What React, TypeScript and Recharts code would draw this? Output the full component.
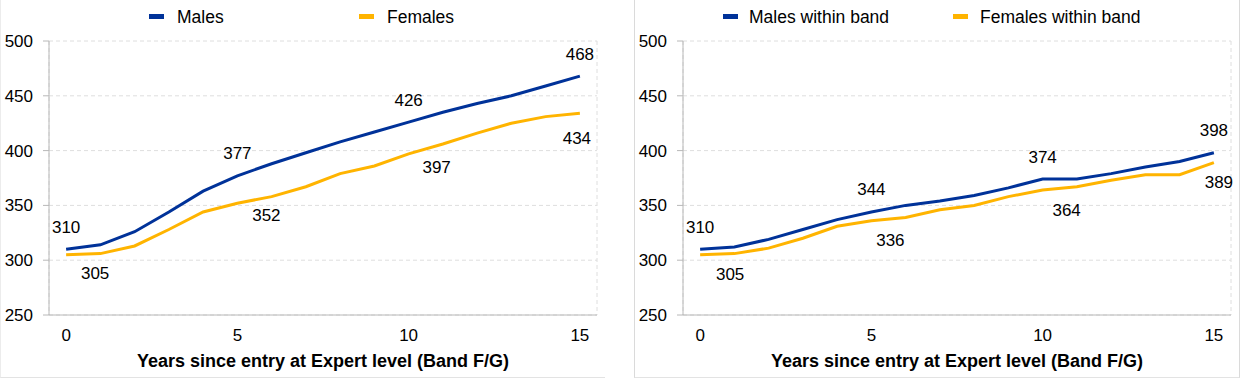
import { LineChart, Line, XAxis, YAxis, CartesianGrid, Legend } from "recharts";

// years since entry at Expert level (Band F/G)
const years = [0, 1, 2, 3, 4, 5, 6, 7, 8, 9, 10, 11, 12, 13, 14, 15];

const males = [310, 314, 326, 344, 363, 377, 388, 398, 408, 417, 426, 435, 443, 450, 459, 468];
const females = [305, 306, 313, 328, 344, 352, 358, 367, 379, 386, 397, 406, 416, 425, 431, 434];

const malesBand = [310, 312, 319, 328, 337, 344, 350, 354, 359, 366, 374, 374, 379, 385, 390, 398];
const femalesBand = [305, 306, 311, 320, 331, 336, 339, 346, 350, 358, 364, 367, 373, 378, 378, 389];

const yTicks = [250, 300, 350, 400, 450, 500];
const xLabelTicks = [0, 5, 10, 15];
const bandEdges = [-0.5, 0.5, 1.5, 2.5, 3.5, 4.5, 5.5, 6.5, 7.5, 8.5, 9.5, 10.5, 11.5, 12.5, 13.5, 14.5, 15.5];

const BLUE = "#003299";
const YELLOW = "#FFB400";
const GRID = "#dedede";
const AXIS = "#b8b8b8";
const FONT = '"Liberation Sans", Arial, sans-serif';
const X_TITLE = "Years since entry at Expert level (Band F/G)";

type Offset = { dx: number; dy: number };

const W = 604;
const H = 377;

function makeLabel(offsets: Offset[]) {
  return (props: any) => {
    const { x, y, value, index } = props;
    const k = xLabelTicks.indexOf(years[index]);
    if (k < 0 || x == null || y == null) return null;
    const o = offsets[k];
    return (
      <text
        key={`l-${index}`}
        x={x + o.dx}
        y={y + o.dy}
        textAnchor="middle"
        dominantBaseline="central"
        fontSize={17}
        fontFamily={FONT}
        fill="#000"
      >
        {value}
      </text>
    );
  };
}

interface PanelProps {
  left: number;
  mName: string;
  fName: string;
  m: number[];
  f: number[];
  mOffsets: Offset[];
  fOffsets: Offset[];
  legendPos: number[]; // icon m, text m, icon f, text f
  borders: React.CSSProperties;
}

function Panel({ left, mName, fName, m, f, mOffsets, fOffsets, legendPos, borders }: PanelProps) {
  const rows = years.map((yr, i) => ({ year: yr, m: m[i], f: f[i] }));
  const items = [
    { name: mName, color: BLUE, icon: legendPos[0], text: legendPos[1] },
    { name: fName, color: YELLOW, icon: legendPos[2], text: legendPos[3] },
  ];
  return (
    <div
      style={{
        position: "absolute",
        left,
        top: 0,
        width: W,
        height: H,
        borderBottom: "1px solid #e3e3e3",
        ...borders,
      }}
    >
      <LineChart width={W} height={H} data={rows} margin={{ top: 41, right: 8, bottom: 0, left: 0 }}>
        <CartesianGrid xAxisId="grid" stroke={GRID} strokeDasharray="4 3" />
        <XAxis
          xAxisId="grid"
          dataKey="year"
          type="number"
          domain={[-0.5, 15.5]}
          ticks={bandEdges}
          interval={0}
          tick={false}
          tickSize={4}
          height={5}
          stroke={AXIS}
        />
        <XAxis
          xAxisId="lab"
          dataKey="year"
          type="number"
          domain={[-0.5, 15.5]}
          ticks={xLabelTicks}
          interval={0}
          axisLine={false}
          tickLine={false}
          tickSize={0}
          tickMargin={9}
          height={57}
          tick={{ fontSize: 17, fill: "#000", fontFamily: FONT }}
          label={{
            value: X_TITLE,
            position: "insideBottom",
            offset: 10,
            fill: "#000",
            fontSize: 18,
            fontWeight: "bold",
            fontFamily: FONT,
          }}
        />
        <YAxis
          domain={[250, 500]}
          ticks={yTicks}
          interval={0}
          width={48}
          tickSize={6}
          tickMargin={10}
          stroke={AXIS}
          tick={{ fontSize: 17, fill: "#000", fontFamily: FONT }}
        />
        <Legend
          layout="vertical"
          align="center"
          verticalAlign="middle"
          wrapperStyle={{ position: "absolute", left: 0, top: 0, width: W, height: 32 }}
          content={() => (
            <div style={{ position: "relative", width: W, height: 32, fontFamily: FONT }}>
              {items.map((it) => (
                <div key={it.name}>
                  <div
                    style={{
                      position: "absolute",
                      left: it.icon,
                      top: 14,
                      width: 15,
                      height: 5,
                      background: it.color,
                    }}
                  />
                  <div
                    style={{
                      position: "absolute",
                      left: it.text,
                      top: 6,
                      fontSize: 17.5,
                      lineHeight: "22px",
                      color: "#000",
                      whiteSpace: "nowrap",
                    }}
                  >
                    {it.name}
                  </div>
                </div>
              ))}
            </div>
          )}
        />
        <Line
          xAxisId="grid"
          dataKey="m"
          name={mName}
          stroke={BLUE}
          strokeWidth={3}
          dot={false}
          isAnimationActive={false}
          label={makeLabel(mOffsets)}
        />
        <Line
          xAxisId="grid"
          dataKey="f"
          name={fName}
          stroke={YELLOW}
          strokeWidth={3}
          dot={false}
          isAnimationActive={false}
          label={makeLabel(fOffsets)}
        />
      </LineChart>
    </div>
  );
}

const mLabelOffsets: Offset[] = [
  { dx: 0, dy: -22 },
  { dx: 0, dy: -22 },
  { dx: 0, dy: -22 },
  { dx: 0, dy: -22 },
];
const fLeftOffsets: Offset[] = [
  { dx: 29, dy: 19 },
  { dx: 29, dy: 12 },
  { dx: 28, dy: 14 },
  { dx: -3, dy: 25 },
];
const fRightOffsets: Offset[] = [
  { dx: 30, dy: 20 },
  { dx: 19, dy: 20 },
  { dx: 24, dy: 20 },
  { dx: 5, dy: 20 },
];

export default function App() {
  return (
    <div style={{ position: "absolute", left: 0, top: 0, width: 1240, height: 378, background: "#fff" }}>
      <Panel
        left={0}
        mName="Males"
        fName="Females"
        m={males}
        f={females}
        mOffsets={mLabelOffsets}
        fOffsets={fLeftOffsets}
        legendPos={[148, 176, 358, 386]}
        borders={{ borderLeft: "1px solid #ececec" }}
      />
      <Panel
        left={634}
        mName="Males within band"
        fName="Females within band"
        m={malesBand}
        f={femalesBand}
        mOffsets={mLabelOffsets}
        fOffsets={fRightOffsets}
        legendPos={[88, 114, 318, 345]}
        borders={{ borderLeft: "1px solid #dadada", borderRight: "1px solid #dadada" }}
      />
    </div>
  );
}
